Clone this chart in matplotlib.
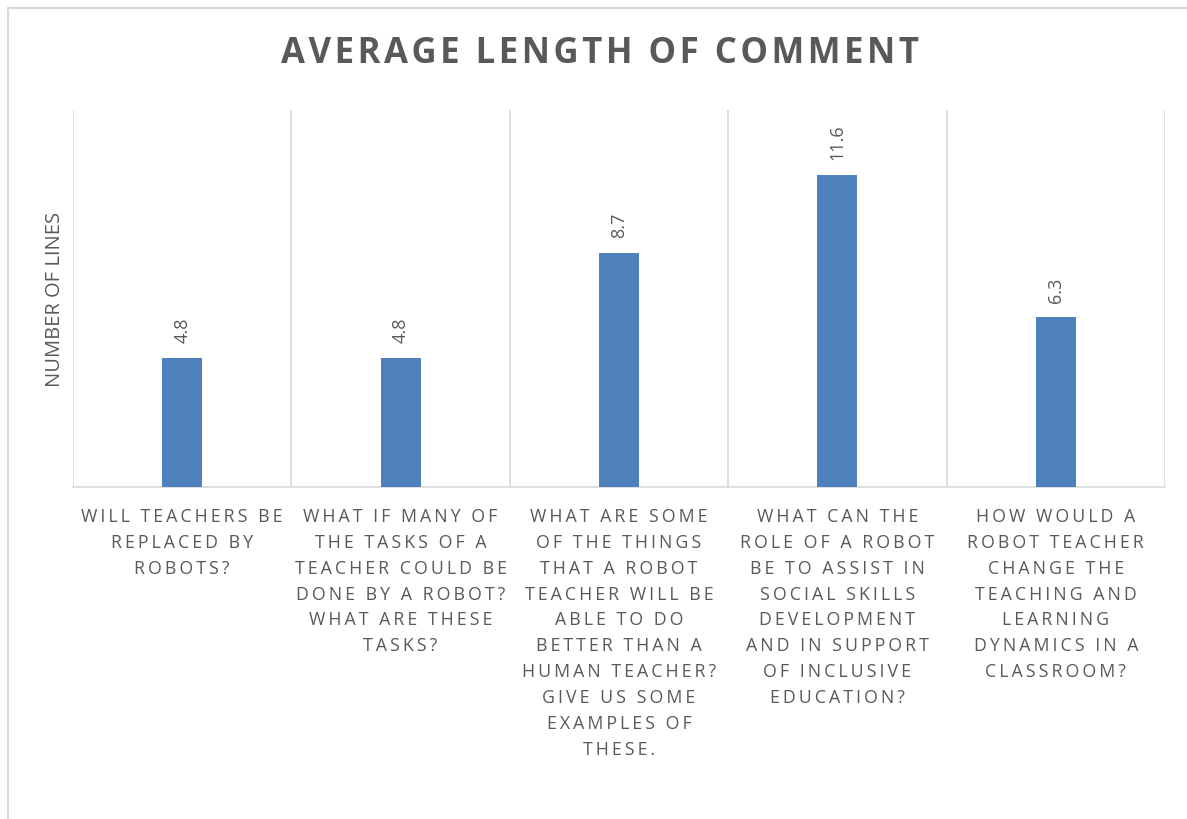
import matplotlib
matplotlib.use("Agg")
import matplotlib.pyplot as plt
from matplotlib.patches import Rectangle

# --- data ---
categories = [
    "WILL TEACHERS BE\nREPLACED BY\nROBOTS?",
    "WHAT IF MANY OF\nTHE TASKS OF A\nTEACHER COULD BE\nDONE BY A ROBOT?\nWHAT ARE THESE\nTASKS?",
    "WHAT ARE SOME\nOF THE THINGS\nTHAT A ROBOT\nTEACHER WILL BE\nABLE TO DO\nBETTER THAN A\nHUMAN TEACHER?\nGIVE US SOME\nEXAMPLES OF\nTHESE.",
    "WHAT CAN THE\nROLE OF A ROBOT\nBE TO ASSIST IN\nSOCIAL SKILLS\nDEVELOPMENT\nAND IN SUPPORT\nOF INCLUSIVE\nEDUCATION?",
    "HOW WOULD A\nROBOT TEACHER\nCHANGE THE\nTEACHING AND\nLEARNING\nDYNAMICS IN A\nCLASSROOM?",
]
values = [4.8, 4.8, 8.7, 11.6, 6.3]
value_labels = ["4.8", "4.8", "8.7", "11.6", "6.3"]

title = "AVERAGE LENGTH OF COMMENT"
ylabel = "NUMBER OF LINES"

TEXT = "#595959"
GRID = "#D9D9D9"
BAR = "#4F81BD"
FONT = ["Open Sans", "DejaVu Sans"]


def spaced(s, sep="\u2009"):
    # fake letter spacing, line by line
    return "\n".join(sep.join(line) for line in s.split("\n"))


W, H = 1187, 819
fig = plt.figure(figsize=(W / 100, H / 100), dpi=100)
plt.rcParams["font.family"] = FONT

# outer chart border (right / bottom run off the picture)
fig.patches.append(Rectangle((8 / W, -0.05), 1.1, 1 - 8 / H + 0.05,
                             transform=fig.transFigure, fill=False,
                             edgecolor=GRID, linewidth=1.5))

ax = fig.add_axes([73 / W, 1 - 487 / H, (1165 - 73) / W, (487 - 110) / H])
x = list(range(len(values)))
ax.bar(x, values, width=0.183, color=BAR, zorder=3)

ax.set_xlim(-0.5, len(values) - 0.5)
ax.set_ylim(0, 14)
ax.set_yticks([])

# separators between categories
ax.set_xticks([i - 0.5 for i in range(len(values) + 1)], minor=True)
ax.grid(True, which="minor", axis="x", color=GRID, linewidth=1.2)
ax.tick_params(which="minor", length=0)

ax.set_xticks(x)
ax.set_xticklabels([spaced(c) for c in categories], fontsize=12.8,
                   color=TEXT, linespacing=1.565, multialignment="center")
ax.tick_params(axis="x", which="major", length=0, pad=15)

for s in ["top", "right", "left"]:
    ax.spines[s].set_visible(False)
ax.spines["bottom"].set_color(GRID)
ax.spines["bottom"].set_linewidth(1.2)

for xi, v, lab in zip(x, values, value_labels):
    ax.annotate(lab, (xi, v), xytext=(0, 10.5), textcoords="offset points",
                rotation=90, ha="center", va="bottom", fontsize=13,
                color=TEXT)

fig.text(55 / W, 1 - 299 / H, ylabel, rotation=90, ha="center", va="center",
         fontsize=14.5, color=TEXT)

fig.text(600 / W, 1 - 54 / H, spaced(title, "\u200a"), ha="center",
         va="center", fontsize=25, fontweight="bold", color=TEXT)

fig.savefig("out.png", dpi=100)
